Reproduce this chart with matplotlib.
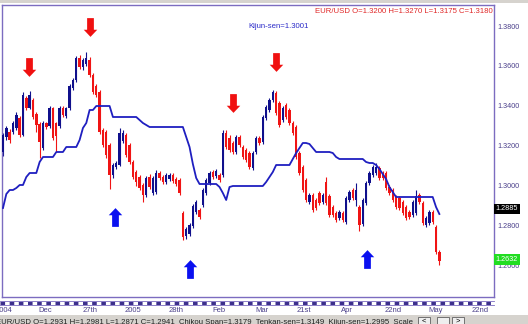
import matplotlib
matplotlib.use("Agg")
import matplotlib.pyplot as plt
import numpy as np
from matplotlib.path import Path
from matplotlib.patches import Rectangle
from matplotlib.lines import Line2D

plt.rcParams['font.family'] = ['Liberation Sans', 'DejaVu Sans']

# daily EUR/USD candles, Nov 2004 - May 2005
opens = [1.3170, 1.3245, 1.3270, 1.3270, 1.3290, 1.3340, 1.3255, 1.3440, 1.3390, 1.3430,
         1.3360, 1.3310, 1.3190, 1.3315, 1.3300, 1.3390, 1.3315, 1.3300, 1.3390, 1.3350,
         1.3390, 1.3490, 1.3530, 1.3640, 1.3595, 1.3610, 1.3630, 1.3555, 1.3500, 1.3470,
         1.3280, 1.3270, 1.3205, 1.3055, 1.3095, 1.3105, 1.3225, 1.3255, 1.3205, 1.3120,
         1.3070, 1.3045, 1.3005, 1.2955, 1.3045, 1.2965, 1.2970, 1.3065, 1.3045, 1.3020,
         1.3035, 1.3055, 1.3035, 1.3030, 1.2865, 1.2750, 1.2760, 1.2800, 1.2870, 1.2880,
         1.2905, 1.2965, 1.3015, 1.3070, 1.3050, 1.3055, 1.3055, 1.3265, 1.3240, 1.3215,
         1.3170, 1.3245, 1.3195, 1.3180, 1.3165, 1.3090, 1.3170, 1.3240, 1.3220, 1.3340,
         1.3380, 1.3430, 1.3465, 1.3415, 1.3330, 1.3405, 1.3380, 1.3315, 1.3295, 1.3165,
         1.3095, 1.3030, 1.2920, 1.2955, 1.2930, 1.2965, 1.2920, 1.3020, 1.2950, 1.2895,
         1.2865, 1.2840, 1.2865, 1.2820, 1.2930, 1.2980, 1.2930, 1.2895, 1.2810, 1.2915,
         1.3015, 1.3055, 1.3065, 1.3090, 1.3065, 1.3065, 1.2995, 1.2980, 1.2945, 1.2940,
         1.2920, 1.2895, 1.2870, 1.2855, 1.2865, 1.2955, 1.2915, 1.2805, 1.2815, 1.2870,
         1.2795, 1.2670]
closes = [1.3255, 1.3290, 1.3230, 1.3315, 1.3355, 1.3255, 1.3455, 1.3390, 1.3455, 1.3345,
          1.3305, 1.3220, 1.3315, 1.3295, 1.3390, 1.3240, 1.3250, 1.3390, 1.3355, 1.3390,
          1.3500, 1.3530, 1.3640, 1.3595, 1.3630, 1.3640, 1.3555, 1.3470, 1.3455, 1.3270,
          1.3205, 1.3155, 1.3055, 1.3105, 1.3115, 1.3265, 1.3265, 1.3155, 1.3120, 1.3045,
          1.3020, 1.2990, 1.2955, 1.3040, 1.2995, 1.3040, 1.3065, 1.3040, 1.3020, 1.3055,
          1.3055, 1.3025, 1.3010, 1.2965, 1.2745, 1.2785, 1.2805, 1.2900, 1.2920, 1.2845,
          1.2980, 1.3030, 1.3065, 1.3045, 1.3075, 1.3030, 1.3265, 1.3195, 1.3180, 1.3170,
          1.3245, 1.3205, 1.3145, 1.3130, 1.3095, 1.3165, 1.3240, 1.3215, 1.3345, 1.3395,
          1.3430, 1.3470, 1.3365, 1.3305, 1.3390, 1.3345, 1.3315, 1.3265, 1.3145, 1.3065,
          1.2980, 1.2930, 1.2955, 1.2880, 1.2890, 1.2915, 1.2955, 1.2915, 1.2855, 1.2855,
          1.2830, 1.2870, 1.2830, 1.2940, 1.2970, 1.2940, 1.2980, 1.2805, 1.2930, 1.3015,
          1.3065, 1.3095, 1.3095, 1.3040, 1.3040, 1.2990, 1.2965, 1.2930, 1.2895, 1.2890,
          1.2865, 1.2840, 1.2845, 1.2920, 1.2950, 1.2920, 1.2815, 1.2840, 1.2870, 1.2820,
          1.2670, 1.2625]
highs = [1.3265, 1.3300, 1.3285, 1.3325, 1.3370, 1.3350, 1.3470, 1.3450, 1.3475, 1.3440,
         1.3370, 1.3320, 1.3325, 1.3320, 1.3400, 1.3395, 1.3320, 1.3400, 1.3400, 1.3395,
         1.3510, 1.3540, 1.3650, 1.3655, 1.3640, 1.3670, 1.3645, 1.3565, 1.3510, 1.3480,
         1.3290, 1.3280, 1.3215, 1.3115, 1.3125, 1.3290, 1.3280, 1.3265, 1.3215, 1.3130,
         1.3080, 1.3055, 1.3015, 1.3050, 1.3060, 1.3050, 1.3080, 1.3075, 1.3055, 1.3065,
         1.3065, 1.3065, 1.3045, 1.3040, 1.2875, 1.2795, 1.2815, 1.2910, 1.2930, 1.2890,
         1.2990, 1.3040, 1.3075, 1.3080, 1.3085, 1.3065, 1.3280, 1.3280, 1.3255, 1.3225,
         1.3255, 1.3255, 1.3205, 1.3190, 1.3175, 1.3175, 1.3250, 1.3250, 1.3355, 1.3405,
         1.3440, 1.3480, 1.3475, 1.3425, 1.3400, 1.3415, 1.3390, 1.3325, 1.3305, 1.3175,
         1.3105, 1.3040, 1.2965, 1.2965, 1.2940, 1.2975, 1.2965, 1.3045, 1.2960, 1.2905,
         1.2875, 1.2880, 1.2875, 1.2950, 1.2980, 1.2990, 1.3015, 1.2905, 1.2940, 1.3025,
         1.3075, 1.3105, 1.3115, 1.3100, 1.3075, 1.3075, 1.3005, 1.2990, 1.2955, 1.2950,
         1.2930, 1.2905, 1.2880, 1.2930, 1.2980, 1.2965, 1.2925, 1.2850, 1.2880, 1.2880,
         1.2805, 1.2680]
lows = [1.3150, 1.3230, 1.3215, 1.3260, 1.3280, 1.3245, 1.3250, 1.3380, 1.3385, 1.3335,
        1.3270, 1.3140, 1.3180, 1.3285, 1.3290, 1.3230, 1.3170, 1.3290, 1.3345, 1.3340,
        1.3380, 1.3480, 1.3520, 1.3585, 1.3580, 1.3600, 1.3545, 1.3460, 1.3445, 1.3260,
        1.3195, 1.3140, 1.2985, 1.3040, 1.3085, 1.3100, 1.3215, 1.3145, 1.3110, 1.3035,
        1.3000, 1.2980, 1.2920, 1.2945, 1.2985, 1.2955, 1.2960, 1.3030, 1.3010, 1.3010,
        1.3025, 1.3015, 1.3000, 1.2955, 1.2730, 1.2735, 1.2750, 1.2790, 1.2860, 1.2835,
        1.2895, 1.2955, 1.3005, 1.3035, 1.3040, 1.3020, 1.3045, 1.3185, 1.3170, 1.3160,
        1.3160, 1.3195, 1.3135, 1.3120, 1.3085, 1.3080, 1.3160, 1.3205, 1.3210, 1.3330,
        1.3370, 1.3420, 1.3355, 1.3295, 1.3320, 1.3335, 1.3305, 1.3255, 1.3135, 1.3055,
        1.2970, 1.2920, 1.2910, 1.2870, 1.2880, 1.2905, 1.2910, 1.2905, 1.2845, 1.2845,
        1.2820, 1.2830, 1.2820, 1.2810, 1.2920, 1.2930, 1.2900, 1.2775, 1.2800, 1.2905,
        1.3005, 1.3045, 1.3055, 1.3030, 1.3030, 1.2980, 1.2955, 1.2920, 1.2885, 1.2880,
        1.2855, 1.2830, 1.2835, 1.2845, 1.2855, 1.2910, 1.2805, 1.2795, 1.2805, 1.2810,
        1.2660, 1.2605]
kijun = [1.2890, 1.2960, 1.2980, 1.2980, 1.2990, 1.3005, 1.3005, 1.3045, 1.3065, 1.3065,
         1.3065, 1.3120, 1.3145, 1.3145, 1.3145, 1.3145, 1.3170, 1.3170, 1.3170, 1.3195,
         1.3195, 1.3195, 1.3195, 1.3230, 1.3290, 1.3315, 1.3380, 1.3380, 1.3400, 1.3400,
         1.3400, 1.3400, 1.3400, 1.3345, 1.3345, 1.3345, 1.3345, 1.3345, 1.3345, 1.3345,
         1.3345, 1.3330, 1.3315, 1.3305, 1.3295, 1.3295, 1.3295, 1.3295, 1.3295, 1.3295,
         1.3295, 1.3295, 1.3295, 1.3295, 1.3295, 1.3245, 1.3195, 1.3110, 1.3040, 1.3010,
         1.3010, 1.3010, 1.3010, 1.3010, 1.3010, 1.2995, 1.2965, 1.2930, 1.2995, 1.3000,
         1.3000, 1.3000, 1.3000, 1.3000, 1.3000, 1.3000, 1.3000, 1.3000, 1.3000, 1.3020,
         1.3045, 1.3070, 1.3105, 1.3105, 1.3105, 1.3105, 1.3105, 1.3135, 1.3165, 1.3190,
         1.3215, 1.3215, 1.3210, 1.3190, 1.3170, 1.3170, 1.3170, 1.3170, 1.3170, 1.3165,
         1.3145, 1.3135, 1.3135, 1.3135, 1.3135, 1.3135, 1.3135, 1.3135, 1.3135, 1.3120,
         1.3115, 1.3115, 1.3105, 1.3085, 1.3060, 1.3035, 1.2995, 1.2970, 1.2945, 1.2945,
         1.2945, 1.2945, 1.2945, 1.2945, 1.2945, 1.2945, 1.2945, 1.2945, 1.2945, 1.2945,
         1.2895, 1.2860]

date_ticks = [0.3, 12.8, 26.0, 39.0, 52.0, 64.7, 77.8, 90.4, 103.3, 117.1, 130.0, 143.2]
date_labels = ['2004', 'Dec', '27th', '2005', '28th', 'Feb', 'Mar', '21st', 'Apr', '22nd', 'May', '22nd']
price_ticks = [1.38, 1.36, 1.34, 1.32, 1.30, 1.28, 1.26]

# signal arrows (candle index, price)
sell_x = [7.7, 26.0, 68.9, 82.0]
sell_y = [1.3593, 1.3793, 1.3415, 1.3620]
buy_x = [33.6, 56.1, 109.3]
buy_y = [1.2843, 1.2583, 1.2635]

kijun_label = 1.2885
close_label = 1.2632

frame_col = '#7c6cc0'
text_col = '#4a3f8a'
up_col = '#10108c'
down_col = '#f01414'

W, H = 528, 324
fig = plt.figure(figsize=(W / 100, H / 100), dpi=100)
ax = fig.add_axes([2 / W, 27 / H, 492 / W, 292 / H])

o = np.array(opens)
c = np.array(closes)
x = np.arange(len(o))
cols = [up_col if cc >= oo else down_col for oo, cc in zip(o, c)]
ax.vlines(x, lows, highs, colors=cols, linewidth=0.8, zorder=2)
ax.bar(x, c - o, bottom=o, width=0.72, color=cols, linewidth=0, zorder=3)
ax.plot(x, kijun, color='#1f1fc0', linewidth=1.3, zorder=4)

# block arrows as custom markers
down_arrow = Path([(-0.18, 0.5), (0.18, 0.5), (0.18, -0.12), (0.36, -0.12), (0, -0.5),
                   (-0.36, -0.12), (-0.18, -0.12), (-0.18, 0.5)],
                  [Path.MOVETO] + [Path.LINETO] * 6 + [Path.CLOSEPOLY])
up_arrow = Path([(vx, -vy) for vx, vy in down_arrow.vertices], down_arrow.codes)
ax.plot(sell_x, sell_y, linestyle='none', marker=down_arrow, markersize=13.5,
        color='#f01010', markeredgewidth=0, zorder=5)
ax.plot(buy_x, buy_y, linestyle='none', marker=up_arrow, markersize=13.5,
        color='#0a10f0', markeredgewidth=0, zorder=5)

ax.set_xlim(-0.3, 147.4)
ax.set_ylim(1.2445, 1.3905)
ax.yaxis.tick_right()
ax.set_yticks(price_ticks, ['%.4f' % p for p in price_ticks])
ax.set_xticks(date_ticks, date_labels)
ax.tick_params(axis='y', length=0, pad=2.5, labelsize=5.2, labelcolor=text_col)
ax.tick_params(axis='x', length=0, pad=7, labelsize=5.5, labelcolor=text_col)
for sp in ax.spines.values():
    sp.set_color(frame_col)
    sp.set_linewidth(1.0)

ax.text(0.998, 0.978, 'EUR/USD O=1.3200 H=1.3270 L=1.3175 C=1.3180', transform=ax.transAxes,
        ha='right', va='center', fontsize=5.6, color='#e02828')
ax.text(0.562, 0.928, 'Kijun-sen=1.3001', transform=ax.transAxes,
        ha='center', va='center', fontsize=5.6, color='#2a2ac8')

ytr = ax.get_yaxis_transform()
ax.text(1.003, kijun_label, '%.4f' % kijun_label, transform=ytr, ha='left', va='center',
        fontsize=5.2, color='white', zorder=6,
        bbox=dict(boxstyle='square,pad=0.25', facecolor='black', edgecolor='none'))
ax.text(1.003, close_label, '%.4f' % close_label, transform=ytr, ha='left', va='center',
        fontsize=5.2, color='white', zorder=6,
        bbox=dict(boxstyle='square,pad=0.25', facecolor='#22dd22', edgecolor='none'))


def fy(px):
    return 1 - px / H


# window chrome: top strip, date band, status bar
fig.patches.append(Rectangle((0, fy(3)), 1, 3 / H, transform=fig.transFigure,
                             facecolor='#d6d3ce', edgecolor='none', zorder=0))
fig.lines.append(Line2D([0, 494 / W], [fy(300.5), fy(300.5)], transform=fig.transFigure,
                        color=frame_col, linewidth=0.6))
fig.lines.append(Line2D([0, 494 / W], [fy(302.5), fy(302.5)], transform=fig.transFigure,
                        color='#3c2f8c', linewidth=2.2, dashes=(1.5, 1.5)))
fig.lines.append(Line2D([0, 494 / W], [fy(304.5), fy(304.5)], transform=fig.transFigure,
                        color=frame_col, linewidth=0.6))
fig.patches.append(Rectangle((0, 0), 1, 9 / H, transform=fig.transFigure,
                             facecolor='#d6d3ce', edgecolor='none', zorder=0))
fig.text(-4 / W, fy(322.5), 'EUR/USD O=1.2931 H=1.2981 L=1.2871 C=1.2941  Chikou Span=1.3179  '
         'Tenkan-sen=1.3149  Kijun-sen=1.2995  Scale', fontsize=5.6, color='#202020',
         va='center', ha='left')
for bx, lab in [(418, '<'), (437, ''), (452, '>')]:
    fig.patches.append(Rectangle((bx / W, fy(324)), 12 / W, 7 / H, transform=fig.transFigure,
                                 facecolor='#eeeeee', edgecolor='#606060', linewidth=0.6))
    fig.text((bx + 6) / W, fy(321), lab, fontsize=5.5, ha='center', va='center')

fig.savefig('out.png', dpi=100)
